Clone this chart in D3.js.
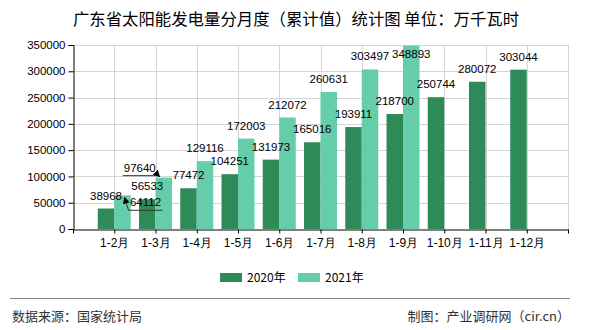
<!DOCTYPE html>
<html><head><meta charset="utf-8">
<script src="https://cdn.jsdelivr.net/npm/d3@7"></script>
<style>
body{margin:0;background:#fff;}
svg{display:block;font-family:"Noto Sans CJK SC","DejaVu Sans",sans-serif;}
.num{font-family:"Liberation Sans",Arial,sans-serif;}
</style></head>
<body><svg id="c" width="590" height="330"></svg>
<script>
const categories = ["1-2月","1-3月","1-4月","1-5月","1-6月","1-7月","1-8月","1-9月","1-10月","1-11月","1-12月"];
const values2020 = [38968,56533,77472,104251,131973,165016,193911,218700,250744,280072,303044];
const values2021 = [64112,97640,129116,172003,212072,260631,303497,348893,null,null,null];
const yTicks = [0,50000,100000,150000,200000,250000,300000,350000];
const seriesNames = ["2020年","2021年"];
const colors = ["#2E8B57","#66CDAA"];

const svg = d3.select("#c");
const L = 73, R = 568, T = 45, B = 229;
const x = d3.scaleLinear().domain([0, categories.length + 1]).range([L, R]);
const y = d3.scaleLinear().domain([0, 350000]).range([B, T]);
const step = x(1) - x(0);
const bw = step * 0.4;

// title
svg.append("text").attr("x", 296).attr("y", 25).attr("text-anchor", "middle")
  .attr("font-size", 16.4).attr("fill", "#000")
  .text("广东省太阳能发电量分月度（累计值）统计图 单位：万千瓦时");

// grid
const g = svg.append("g");
g.selectAll(".hg").data(yTicks.slice(1)).enter().append("line")
  .attr("x1", L).attr("x2", R).attr("y1", d => Math.round(y(d)) + 0.5).attr("y2", d => Math.round(y(d)) + 0.5)
  .attr("stroke", "#d4d4d4");
g.selectAll(".vg").data(d3.range(1, categories.length + 2)).enter().append("line")
  .attr("x1", d => Math.round(x(d)) + 0.5).attr("x2", d => Math.round(x(d)) + 0.5).attr("y1", T).attr("y2", B)
  .attr("stroke", "#d4d4d4");

// bars
const bars = svg.append("g");
categories.forEach((c, i) => {
  const cx = x(i + 1);
  if (values2020[i] != null)
    bars.append("rect").attr("x", cx - bw).attr("width", bw).attr("y", y(values2020[i])).attr("height", y(0) - y(values2020[i])).attr("fill", colors[0]);
  if (values2021[i] != null)
    bars.append("rect").attr("x", cx).attr("width", bw).attr("y", y(values2021[i])).attr("height", y(0) - y(values2021[i])).attr("fill", colors[1]);
});

// axes
const yAxis = d3.axisLeft(y).tickValues(yTicks).tickSize(5).tickPadding(3).tickFormat(d3.format("d"));
const ya = svg.append("g").attr("transform", `translate(${L + 0.5},0)`).call(yAxis);
ya.selectAll("text").attr("class", "num").attr("font-size", 11.5).attr("fill", "#000");
ya.select(".domain").attr("stroke", "#000");
const xAxis = d3.axisBottom(x).tickValues(d3.range(0, categories.length + 2)).tickSize(4).tickSizeOuter(0)
  .tickFormat(d => (d >= 1 && d <= categories.length) ? categories[d - 1] : "");
const xa = svg.append("g").attr("transform", `translate(0,${B + 0.5})`).call(xAxis);
xa.selectAll("text").attr("font-size", 12).attr("fill", "#000").attr("dy", "0.9em");
xa.select(".domain").attr("stroke", "#000");

// labels
const defs = svg.append("defs");
defs.append("marker").attr("id", "arr").attr("viewBox", "0 0 10 10").attr("refX", 9).attr("refY", 5)
  .attr("markerWidth", 7).attr("markerHeight", 7).attr("orient", "auto")
  .append("path").attr("d", "M0,0L10,5L0,10z").attr("fill", "#000");

const lab = svg.append("g").attr("class", "num").attr("font-size", 11.5).attr("fill", "#000").attr("text-anchor", "middle");
// displaced labels in series 2021: [dx, dy] relative to bar top centre
const leaders2021 = {0: [23, 11], 1: [-24, -6]};
const inside2021 = {7: 12};
categories.forEach((c, i) => {
  const cx = x(i + 1);
  if (values2020[i] != null)
    lab.append("text").attr("x", cx - bw / 2).attr("y", y(values2020[i]) - 9).text(values2020[i]);
  if (values2021[i] != null) {
    const bx = cx + bw / 2, by = y(values2021[i]);
    if (leaders2021[i]) {
      const [dx, dy] = leaders2021[i];
      lab.append("text").attr("x", bx + dx).attr("y", by + dy).text(values2021[i]);
      const lx0 = bx + dx - 17, lx1 = bx + dx + 17, ly = by + dy + 4;
      let pts;
      if (dy > 0) pts = [[lx1, ly], [lx0, ly], [bx + 2, by + 2]];
      else pts = [[lx0, ly], [lx1 + 2, ly], [bx - 4, by - 1]];
      svg.append("path").attr("d", d3.line()(pts)).attr("fill", "none").attr("stroke", "#333").attr("stroke-width", 1)
        .attr("marker-end", "url(#arr)");
    } else if (inside2021[i] != null) {
      lab.append("text").attr("x", bx).attr("y", by + inside2021[i]).text(values2021[i]);
    } else {
      lab.append("text").attr("x", bx).attr("y", by - 9).text(values2021[i]);
    }
  }
});

// legend
const lg = svg.append("g").attr("font-size", 12);
[[220, 0], [298, 1]].forEach(([lx, k]) => {
  lg.append("rect").attr("x", lx).attr("y", 273).attr("width", 22).attr("height", 9).attr("fill", colors[k]);
  lg.append("text").attr("x", lx + 27).attr("y", 282).attr("fill", "#000").text(seriesNames[k]);
});

// footer
svg.append("line").attr("x1", 10).attr("x2", 570).attr("y1", 298.5).attr("y2", 298.5).attr("stroke", "#888");
svg.append("text").attr("x", 12).attr("y", 321).attr("font-size", 13).attr("fill", "#333").text("数据来源：国家统计局");
svg.append("text").attr("x", 570).attr("y", 321).attr("font-size", 13).attr("fill", "#333").attr("text-anchor", "end").text("制图：产业调研网（cir.cn）");
</script></body></html>
